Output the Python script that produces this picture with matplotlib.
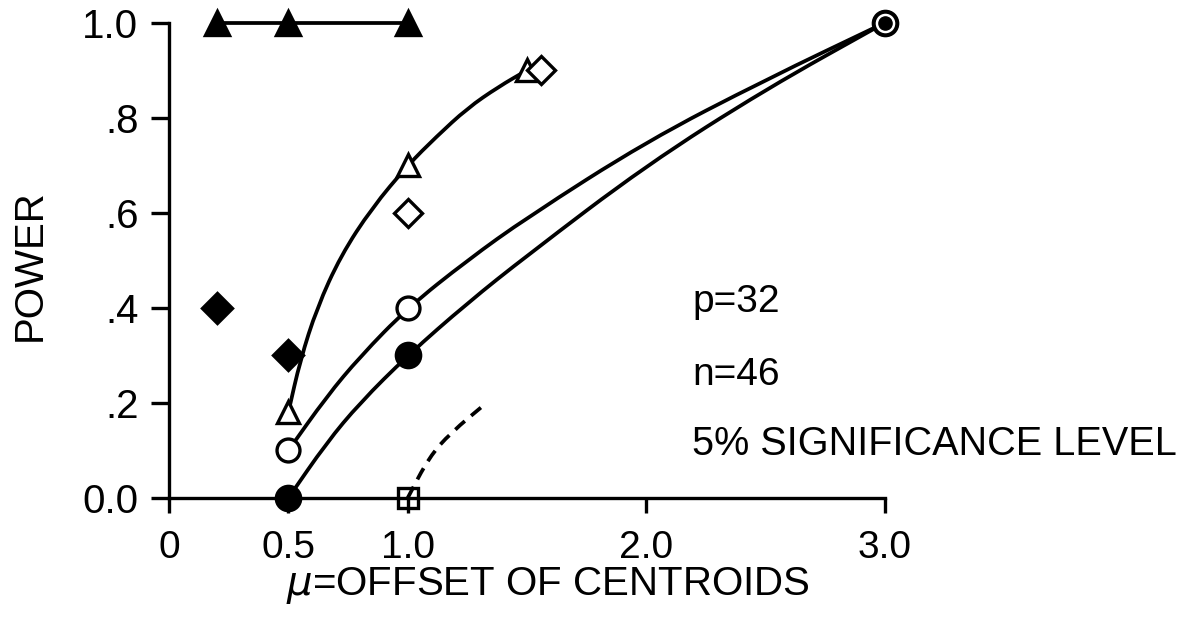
import numpy as np
import matplotlib
matplotlib.use("Agg")
import matplotlib.pyplot as plt
from matplotlib.path import Path
from matplotlib.patches import PathPatch

plt.rcParams['font.family'] = ['Liberation Sans', 'DejaVu Sans']

# Data points (mu, power)
tri_fill_x = [0.2, 0.5, 1.0]
tri_fill_y = [1.0, 1.0, 1.0]

dia_fill_x = [0.2, 0.5]
dia_fill_y = [0.40, 0.30]

tri_open_x = [0.5, 1.0, 1.5]
tri_open_y = [0.18, 0.70, 0.90]

dia_open_x = [1.0, 1.56]
dia_open_y = [0.60, 0.90]

circ_open_x = [0.5, 1.0, 3.0]
circ_open_y = [0.10, 0.40, 1.0]

circ_fill_x = [0.5, 1.0, 3.0]
circ_fill_y = [0.0, 0.30, 1.0]

sq_x = [1.0]
sq_y = [0.0]

# Hand-drawn curves
tri_curve_x = [0.5, 0.55, 0.62, 0.72, 0.85, 1.0, 1.12, 1.25, 1.38, 1.5]
tri_curve_y = [0.18, 0.29, 0.40, 0.51, 0.61, 0.70, 0.76, 0.82, 0.865, 0.90]

open_curve_x = [0.5, 0.66, 0.80, 1.0, 1.25, 1.5, 2.0, 2.5, 3.0]
open_curve_y = [0.10, 0.213, 0.297, 0.40, 0.50, 0.59, 0.75, 0.88, 1.0]

fill_curve_x = [0.5, 0.66, 0.80, 1.0, 1.25, 1.5, 2.0, 2.5, 3.0]
fill_curve_y = [0.0, 0.116, 0.20, 0.30, 0.41, 0.51, 0.70, 0.86, 1.0]

dash_curve_x = [1.0, 1.09, 1.18, 1.33]
dash_curve_y = [0.0, 0.086, 0.137, 0.20]

x_ticks = [0, 0.5, 1.0, 2.0, 3.0]
x_tick_labels = ["0", "0.5", "1.0", "2.0", "3.0"]
y_ticks = [0.0, 0.2, 0.4, 0.6, 0.8, 1.0]
y_tick_labels = ["0.0", ".2", ".4", ".6", ".8", "1.0"]


def smooth_path(xs, ys):
    # quadratic bezier through the midpoints of the traced points
    pts = np.column_stack([xs, ys])
    verts = [pts[0]]
    codes = [Path.MOVETO]
    mids = (pts[:-1] + pts[1:]) / 2
    verts.append(mids[0])
    codes.append(Path.LINETO)
    for i in range(1, len(pts) - 1):
        verts += [pts[i], mids[i]]
        codes += [Path.CURVE3, Path.CURVE3]
    verts.append(pts[-1])
    codes.append(Path.LINETO)
    return Path(verts, codes)


W, H = 1199, 629
fig = plt.figure(figsize=(W / 100, H / 100), dpi=100)
ax = fig.add_axes([169 / W, (H - 498) / H, 716 / W, 475.3 / H])
ax.set_xlim(0, 3.0)
ax.set_ylim(0, 1.0)

lw = 2.7
ax.plot(tri_fill_x, tri_fill_y, color="black", linewidth=lw, clip_on=False, zorder=2)
for cx, cy in [(tri_curve_x, tri_curve_y), (open_curve_x, open_curve_y),
               (fill_curve_x, fill_curve_y)]:
    ax.add_patch(PathPatch(smooth_path(cx, cy), fill=False, edgecolor="black",
                           linewidth=lw, capstyle="round", clip_on=False, zorder=2))
ax.add_patch(PathPatch(smooth_path(dash_curve_x, dash_curve_y), fill=False,
                       edgecolor="black", linewidth=lw, linestyle=(0, (3.4, 2.2)),
                       clip_on=False, zorder=2))

mk = dict(linestyle="none", markeredgecolor="black", markeredgewidth=2.4,
          clip_on=False, zorder=4)
ax.plot(tri_fill_x, tri_fill_y, marker="^", markersize=17, markerfacecolor="black", **mk)
ax.plot(dia_fill_x, dia_fill_y, marker="D", markersize=15, markerfacecolor="black", **mk)
ax.plot(tri_open_x, tri_open_y, marker="^", markersize=16.5, markerfacecolor="white", **mk)
ax.plot(dia_open_x, dia_open_y, marker="D", markersize=14.5, markerfacecolor="white", **mk)
ax.plot(circ_fill_x, circ_fill_y, marker="o", markersize=17.5, markerfacecolor="black", **mk)
ax.plot(circ_open_x, circ_open_y, marker="o", markersize=16.5, markerfacecolor="white", **mk)
ax.plot(sq_x, sq_y, marker="s", markersize=14, markerfacecolor="none", **mk)

# where an open and a filled circle coincide, a dot sits inside the ring
open_pts = set(zip(circ_open_x, circ_open_y))
shared = [(x, y) for x, y in zip(circ_fill_x, circ_fill_y) if (x, y) in open_pts]
ax.plot([p[0] for p in shared], [p[1] for p in shared], linestyle="none",
        marker="o", markersize=9.5, color="black", clip_on=False, zorder=5)

for side in ["top", "right"]:
    ax.spines[side].set_visible(False)
for side in ["left", "bottom"]:
    ax.spines[side].set_linewidth(2.4)

ax.set_xticks(x_ticks)
ax.set_xticklabels(x_tick_labels)
ax.set_yticks(y_ticks)
ax.set_yticklabels(y_tick_labels)
ax.tick_params(axis="x", direction="out", length=11, width=2.4, pad=12, labelsize=28)
ax.tick_params(axis="y", direction="out", length=13, width=2.4, pad=9, labelsize=29)

fig.text(30 / W, 1 - 265 / H, "POWER", rotation=90, ha="center", va="center", fontsize=29)
fig.text(548 / W, 1 - 586 / H, r"$\mu$=OFFSET OF CENTROIDS", ha="center", va="center", fontsize=29)

tx = 692 / W
fig.text(tx, 1 - 312 / H, "p=32", ha="left", va="baseline", fontsize=28)
fig.text(tx, 1 - 385 / H, "n=46", ha="left", va="baseline", fontsize=28)
fig.text(tx, 1 - 455 / H, "5% SIGNIFICANCE LEVEL", ha="left", va="baseline", fontsize=28.5)

fig.savefig("out.png", dpi=100)
